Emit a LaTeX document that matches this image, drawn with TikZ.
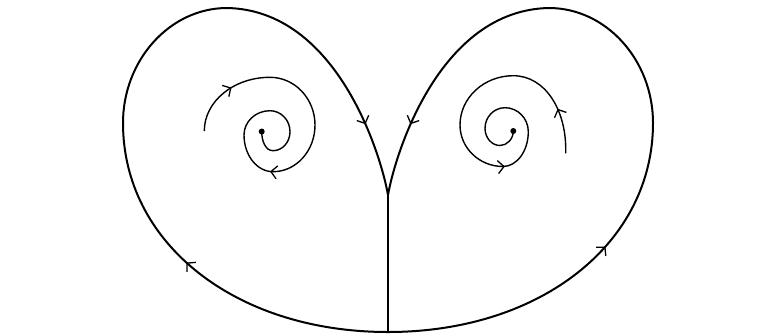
\documentclass[tikz,border=0pt]{standalone}
\usetikzlibrary{arrows.meta,decorations.markings}
\tikzset{
  sep/.style={line width=2pt},
  orbit/.style={line width=1.4pt},
  mk/.style={postaction={decorate,decoration={markings,mark=at position #1 with {\arrow{Straight Barb[length=6pt,width=13pt,line width=1.3pt]}}}}},
  eq/.style={fill=black}
}
\begin{document}
\begin{tikzpicture}[x=1pt,y=-1pt]
\useasboundingbox (0,0) rectangle (767,333);
\coordinate (B) at (388,332);
\coordinate (K) at (388,195);
\coordinate (L1) at (123,123);
\coordinate (L2) at (227,8);
\coordinate (R1) at (653,123);
\coordinate (R2) at (549,8);
% separatrix loops
\draw[sep] (K) -- (B);
\draw[sep,mk=0.58] (B) .. controls (235,332) and (123,243) .. (L1);
\draw[sep] (L1) .. controls (123,60) and (170,8) .. (L2);
\draw[sep,mk=0.72] (L2) .. controls (335,10) and (380,150) .. (K);
\draw[sep,mk=0.64] (B) .. controls (541,332) and (653,243) .. (R1);
\draw[sep] (R1) .. controls (653,60) and (606,8) .. (R2);
\draw[sep,mk=0.72] (R2) .. controls (441,10) and (396,150) .. (K);
% left spiral (inward)
\coordinate (CL) at (261.7,131.5);
\draw[orbit,mk=0.13,mk=0.58] (204.3,131) .. controls (204.3,101.4) and (233.7,77.3) .. (270,77.3)
  .. controls (294.8,77.3) and (315,98.7) .. (315,125)
  .. controls (315,150.8) and (296.2,171.7) .. (273,171.7)
  .. controls (257,171.7) and (244,155.3) .. (244,135)
  .. controls (244,121.6) and (255.6,110.7) .. (270,110.7)
  .. controls (281,110.7) and (290,120.1) .. (290,131.7)
  .. controls (290,142.2) and (282.4,150.7) .. (273,150.7)
  .. controls (265,150.7) and (261.7,140) .. (CL);
% right spiral (inward)
\coordinate (CR) at (513.3,131);
\draw[orbit,mk=0.11,mk=0.61] (565.7,153.3) .. controls (567,110) and (545,75.7) .. (513.3,75.7)
  .. controls (483.9,75.7) and (460,97.8) .. (460,125)
  .. controls (460,147.9) and (479.3,166.5) .. (503,166.5)
  .. controls (517,166.5) and (528.3,150.9) .. (528.3,131.7)
  .. controls (528.3,118.5) and (517.9,107.7) .. (505,107.7)
  .. controls (494,107.7) and (485,116.9) .. (485,128.3)
  .. controls (485,137.8) and (491.7,145.5) .. (500,145.5)
  .. controls (507,145.5) and (513.3,139) .. (CR);
\fill[eq] (CL) circle (3);
\fill[eq] (CR) circle (3);
\end{tikzpicture}
\end{document}
